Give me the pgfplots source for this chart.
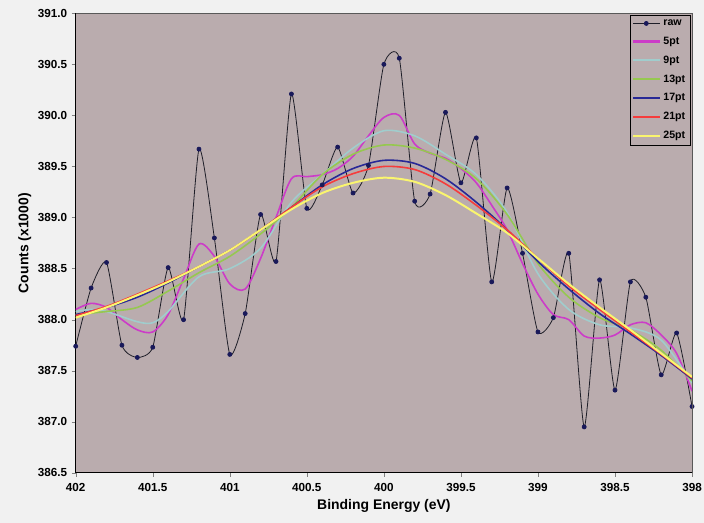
\documentclass[border=0pt]{standalone}
\usepackage{pgfplots}
\pgfplotsset{compat=1.18}
\usepackage{fontspec}
\setmainfont{Liberation Sans}

\definecolor{plotbg}{RGB}{186,172,174}
\definecolor{outerbg}{RGB}{241,241,241}
\definecolor{rawline}{RGB}{30,30,40}
\definecolor{rawmark}{RGB}{25,25,90}
\definecolor{c5}{RGB}{204,60,200}
\definecolor{c9}{RGB}{160,205,205}
\definecolor{c13}{RGB}{150,200,80}
\definecolor{c17}{RGB}{40,40,150}
\definecolor{c21}{RGB}{245,60,60}
\definecolor{c25}{RGB}{250,245,110}

\begin{document}
\begin{tikzpicture}
% page background (plot area is 464pt x 346pt)
\fill[outerbg] (-57pt,-37.5pt) rectangle (473pt,356pt);
\begin{axis}[
    at={(0,0)}, anchor=south west,
    scale only axis,
    width=464pt, height=346pt,
    x dir=reverse,
    xmin=398, xmax=402,
    ymin=386.5, ymax=391.0,
    xtick={398,398.5,...,402},
    ytick={386.5,387,...,391},
    xticklabels={398,398.5,399,399.5,400,400.5,401,401.5,402},
    yticklabel style={/pgf/number format/.cd, fixed, fixed zerofill, precision=1},
    /pgf/number format/assume math mode=true,
    tick label style={font=\fontsize{8.8}{10}\selectfont\bfseries},
    xticklabel style={yshift=-1pt},
    xlabel={Binding Energy (eV)},
    ylabel={Counts (x1000)},
    label style={font=\fontsize{10.5}{12}\selectfont\bfseries},
    xlabel style={yshift=1pt},
    ylabel style={yshift=-2pt},
    axis x line*=bottom, axis y line*=left,
    tick align=outside,
    major tick length=3pt,
    axis line style={black, line width=0.7pt},
    axis background/.style={fill=plotbg},
    after end axis/.code={\draw[gray!70!black, line width=0.5pt] (rel axis cs:0,1) -- (rel axis cs:1,1) -- (rel axis cs:1,0);},
    legend cell align=left,
    legend image code/.code={\draw[mark repeat=2, mark phase=2, #1] plot coordinates {(0pt,0pt) (10pt,0pt) (20pt,0pt)};},
    legend style={at={(0.997,0.997)}, anchor=north east, draw=black, fill=plotbg,
        font=\fontsize{8}{9}\selectfont\bfseries, row sep=3.2pt, inner sep=1.5pt},
]

% legend entries
\addlegendimage{rawline, line width=0.6pt, mark=*, mark size=1.5pt, mark options={fill=rawmark, draw=rawmark}}
\addlegendentry{raw}
\addlegendimage{c5, line width=1.6pt}
\addlegendentry{5pt}
\addlegendimage{c9, line width=1.6pt}
\addlegendentry{9pt}
\addlegendimage{c13, line width=1.6pt}
\addlegendentry{13pt}
\addlegendimage{c17, line width=1.6pt}
\addlegendentry{17pt}
\addlegendimage{c21, line width=1.6pt}
\addlegendentry{21pt}
\addlegendimage{c25, line width=1.8pt}
\addlegendentry{25pt}

\addplot[forget plot, rawline, line width=0.6pt, smooth, tension=0.35,
    mark=*, mark size=1.5pt, mark options={fill=rawmark, draw=rawmark}]
coordinates {
(402.0,387.74) (401.9,388.31) (401.8,388.56) (401.7,387.75) (401.6,387.63)
(401.5,387.73) (401.4,388.51) (401.3,388.00) (401.2,389.67) (401.1,388.80)
(401.0,387.66) (400.9,388.06) (400.8,389.03) (400.7,388.57) (400.6,390.21)
(400.5,389.09) (400.4,389.32) (400.3,389.69) (400.2,389.24) (400.1,389.51)
(400.0,390.50) (399.9,390.56) (399.8,389.16) (399.7,389.23) (399.6,390.03)
(399.5,389.34) (399.4,389.78) (399.3,388.37) (399.2,389.29) (399.1,388.65)
(399.0,387.88) (398.9,388.02) (398.8,388.65) (398.7,386.95) (398.6,388.39)
(398.5,387.31) (398.4,388.37) (398.3,388.22) (398.2,387.46) (398.1,387.87)
(398.0,387.15)
};

\addplot[forget plot, c5, line width=1.2pt, smooth, tension=0.5] coordinates {
(402.0,388.10) (401.9,388.16) (401.8,388.12) (401.7,388.00) (401.6,387.90)
(401.5,387.88) (401.4,388.05) (401.3,388.40) (401.2,388.74) (401.1,388.62)
(401.0,388.35) (400.9,388.30) (400.8,388.60) (400.7,389.00) (400.6,389.38)
(400.5,389.40) (400.4,389.42) (400.3,389.48) (400.2,389.60) (400.1,389.80)
(400.0,389.98) (399.9,390.00) (399.8,389.72) (399.7,389.63) (399.6,389.58)
(399.5,389.48) (399.4,389.34) (399.3,389.12) (399.2,388.88) (399.1,388.55)
(399.0,388.25) (398.9,388.05) (398.8,388.00) (398.7,387.84) (398.6,387.82)
(398.5,387.85) (398.4,387.95) (398.3,387.97) (398.2,387.85) (398.1,387.67)
(398.0,387.30)
};

\addplot[forget plot, c9, line width=1.2pt, smooth] coordinates {
(402.0,388.08) (401.9,388.10) (401.8,388.08) (401.6,387.98) (401.5,387.97)
(401.4,388.08) (401.2,388.42) (401.0,388.50) (400.8,388.70) (400.6,389.15)
(400.4,389.42) (400.2,389.68) (400.0,389.85) (399.8,389.80) (399.6,389.62)
(399.4,389.42) (399.2,389.05) (399.0,388.45) (398.8,388.10) (398.6,387.95)
(398.4,387.92) (398.2,387.80) (398.0,387.38)
};

\addplot[forget plot, c13, line width=1.2pt, smooth] coordinates {
(402.0,388.05) (401.8,388.08) (401.6,388.12) (401.4,388.28) (401.2,388.46)
(401.0,388.62) (400.8,388.84) (400.6,389.10) (400.4,389.42) (400.2,389.62)
(400.0,389.71) (399.8,389.68) (399.6,389.57) (399.4,389.38) (399.2,389.03)
(399.0,388.55) (398.8,388.22) (398.6,388.02) (398.4,387.90) (398.2,387.70)
(398.0,387.40)
};

\addplot[forget plot, c17, line width=1.2pt, smooth] coordinates {
(402.0,388.05) (401.8,388.12) (401.6,388.22) (401.4,388.36) (401.2,388.52)
(401.0,388.68) (400.8,388.88) (400.6,389.10) (400.4,389.32) (400.2,389.48)
(400.0,389.56) (399.8,389.53) (399.6,389.38) (399.4,389.15) (399.2,388.88)
(399.0,388.57) (398.8,388.30) (398.6,388.06) (398.4,387.86) (398.2,387.65)
(398.0,387.42)
};

\addplot[forget plot, c21, line width=1.2pt, smooth] coordinates {
(402.0,388.04) (401.8,388.13) (401.6,388.25) (401.4,388.38) (401.2,388.52)
(401.0,388.68) (400.8,388.88) (400.6,389.10) (400.4,389.30) (400.2,389.43)
(400.0,389.50) (399.8,389.47) (399.6,389.33) (399.4,389.12) (399.2,388.88)
(399.0,388.60) (398.8,388.33) (398.6,388.10) (398.4,387.88) (398.2,387.66)
(398.0,387.43)
};

\addplot[forget plot, c25, line width=1.5pt, smooth] coordinates {
(402.0,388.02) (401.8,388.12) (401.6,388.24) (401.4,388.37) (401.2,388.52)
(401.0,388.68) (400.8,388.88) (400.6,389.08) (400.4,389.24) (400.2,389.34)
(400.0,389.39) (399.8,389.35) (399.6,389.22) (399.4,389.04) (399.2,388.85)
(399.0,388.60) (398.8,388.35) (398.6,388.12) (398.4,387.90) (398.2,387.67)
(398.0,387.44)
};

\end{axis}
\pgfresetboundingbox
\path[use as bounding box] (-57pt,-37.5pt) rectangle (473pt,356pt);
\end{tikzpicture}
\end{document}
